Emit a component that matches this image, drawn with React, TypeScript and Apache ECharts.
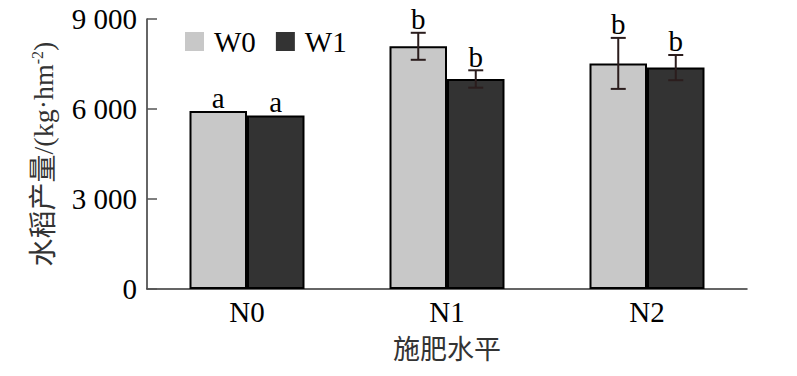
import React, { useEffect, useRef } from "react";
import * as echarts from "echarts";

const categories = ["N0", "N1", "N2"];
const seriesNames = ["W0", "W1"];
const w0Values = [5930, 8090, 7520];
const w1Values = [5780, 7000, 7380];
const w0Errors = [0, 450, 850];
const w1Errors = [0, 290, 420];
const w0Letters = ["a", "b", "b"];
const w1Letters = ["a", "b", "b"];
const yTicks = [0, 3000, 6000, 9000];

const FONT = "Liberation Serif, Noto Sans CJK SC, serif";
const CJK = "Liberation Serif, Noto Sans CJK SC, serif";
const BAR_FRAC = 0.2875;
const COLORS = ["#c8c8c8", "#333333"];

function fmt(v: number) {
  if (v === 0) return "0";
  const s = String(v);
  return s.slice(0, s.length - 3) + " " + s.slice(s.length - 3);
}

function errSeries(name: string, values: number[], errs: number[], letters: string[], sign: number) {
  return {
    type: "custom",
    name: name + "-err",
    z: 10,
    silent: true,
    data: values.map((v, i) => [i, v, errs[i]]),
    encode: { x: 0, y: 1 },
    renderItem: (params: any, api: any) => {
      const idx = api.value(0);
      const val = api.value(1);
      const err = api.value(2);
      const catW = api.size([1, 0])[0];
      const off = (sign * catW * BAR_FRAC) / 2;
      const top = api.coord([idx, val + err]);
      const bot = api.coord([idx, val - err]);
      const cx = top[0] + off;
      const children: any[] = [];
      const cap = 7.5;
      const st = { stroke: "#2b1d1d", lineWidth: 2 };
      if (err > 0) {
        children.push({ type: "line", shape: { x1: cx, y1: top[1], x2: cx, y2: bot[1] }, style: st });
        children.push({ type: "line", shape: { x1: cx - cap, y1: top[1], x2: cx + cap, y2: top[1] }, style: st });
        children.push({ type: "line", shape: { x1: cx - cap, y1: bot[1], x2: cx + cap, y2: bot[1] }, style: st });
      }
      children.push({
        type: "text",
        style: {
          text: letters[params.dataIndex],
          x: cx,
          y: top[1] + 1,
          textAlign: "center",
          textVerticalAlign: "bottom",
          fontFamily: FONT,
          fontSize: 29,
          fill: "#000",
        },
      });
      return { type: "group", children };
    },
  };
}

export default function App() {
  const ref = useRef<HTMLDivElement>(null);
  useEffect(() => {
    if (!ref.current) return;
    const chart = echarts.init(ref.current, undefined, { renderer: "svg" });
    const barStyle = (c: string) => ({ color: c, borderColor: "#000", borderWidth: 2 });
    chart.setOption({
      animation: false,
      backgroundColor: "#fff",
      grid: { left: 147, right: 50, top: 19, bottom: 87 },
      legend: {
        left: 180,
        top: 22,
        itemWidth: 19,
        itemHeight: 19,
        itemGap: 20,
        icon: "rect",
        data: seriesNames,
        itemStyle: { borderWidth: 0 },
        textStyle: { fontFamily: FONT, fontSize: 29, color: "#000", padding: [0, 0, 0, 5] },
      },
      xAxis: {
        type: "category",
        data: categories,
        boundaryGap: true,
        name: "施肥水平",
        nameLocation: "middle",
        nameGap: 47,
        nameTextStyle: { fontFamily: CJK, fontSize: 27, color: "#333" },
        axisLine: { lineStyle: { color: "#333", width: 1.5 } },
        axisTick: { inside: true, length: 10, interval: 0, lineStyle: { color: "#555", width: 1.5 } },
        axisLabel: { fontFamily: FONT, fontSize: 29, color: "#000", margin: 8 },
      },
      yAxis: {
        type: "value",
        min: 0,
        max: 9000,
        interval: 3000,
        name: "水稻产量/(kg·hm{sup|-2})",
        nameLocation: "middle",
        nameGap: 90,
        nameTextStyle: {
          fontFamily: CJK,
          fontSize: 28,
          color: "#333",
          rich: { sup: { fontFamily: FONT, fontSize: 16, color: "#333", verticalAlign: "top", lineHeight: 14 } },
        },
        axisLine: { show: true, lineStyle: { color: "#333", width: 1.5 } },
        axisTick: { show: true, inside: true, length: 10, lineStyle: { color: "#555", width: 1.5 } },
        splitLine: { show: false },
        axisLabel: {
          fontFamily: FONT,
          fontSize: 29,
          color: "#000",
          margin: 10,
          formatter: (v: number) => (yTicks.includes(v) ? fmt(v) : ""),
        },
      },
      series: [
        { type: "bar", name: seriesNames[0], data: w0Values, barWidth: BAR_FRAC * 100 + "%", barGap: "0%", itemStyle: barStyle(COLORS[0]) },
        { type: "bar", name: seriesNames[1], data: w1Values, barWidth: BAR_FRAC * 100 + "%", barGap: "0%", itemStyle: barStyle(COLORS[1]) },
        errSeries("W0", w0Values, w0Errors, w0Letters, -1),
        errSeries("W1", w1Values, w1Errors, w1Letters, 1),
      ],
    });
    return () => chart.dispose();
  }, []);
  return <div ref={ref} style={{ width: 797, height: 376, position: "absolute", left: 0, top: 0 }} />;
}
